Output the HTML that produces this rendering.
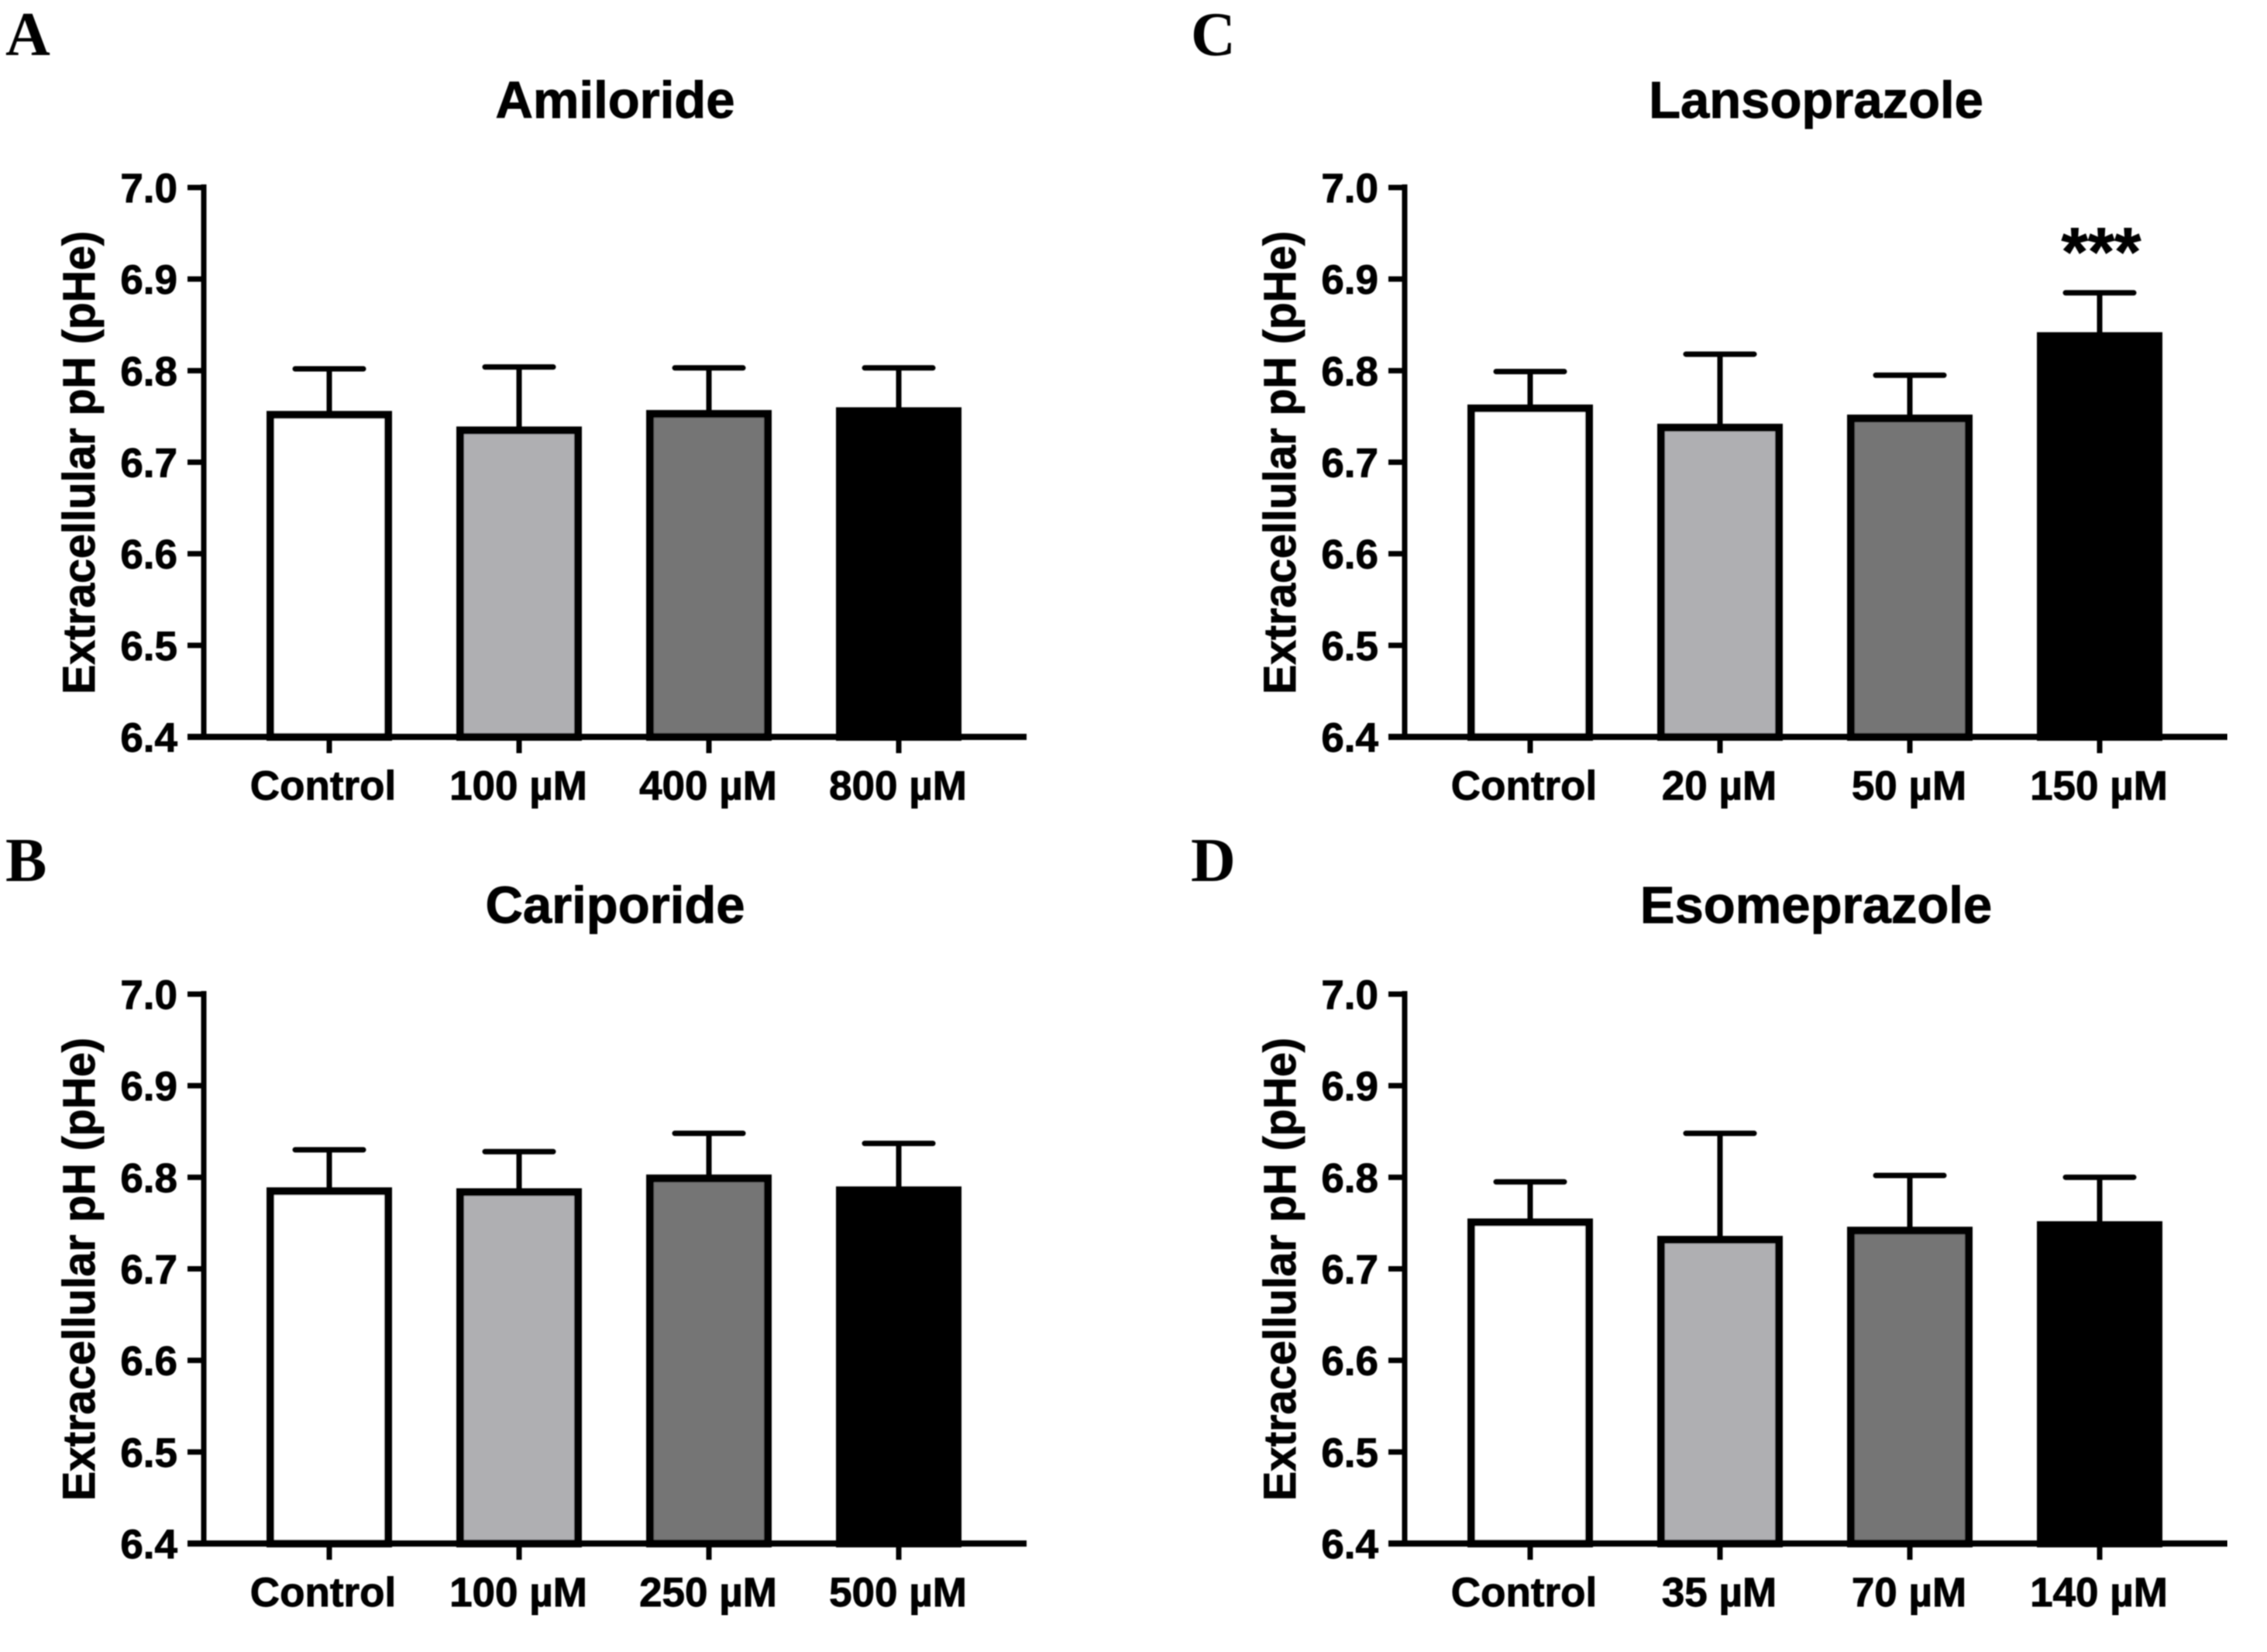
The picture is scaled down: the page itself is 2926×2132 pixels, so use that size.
<!DOCTYPE html>
<html lang="en">
<head>
<meta charset="utf-8">
<title>Extracellular pH bar charts</title>
<style>
html,body{margin:0;padding:0;background:#fff;}
svg{display:block;}
text{font-family:"Liberation Sans",sans-serif;font-weight:bold;fill:#000;stroke:#000;stroke-width:0.9px;}
text.panel-letter{font-family:"Liberation Serif",serif;stroke-width:0;}
</style>
</head>
<body>
<svg id="figure" xmlns="http://www.w3.org/2000/svg" width="2926" height="2132" viewBox="0 0 2926 2132">
<defs><filter id="soften" x="0" y="0" width="100%" height="100%"><feGaussianBlur stdDeviation="0.8"/></filter></defs>
</svg>
<script>
const yTicks = [6.4, 6.5, 6.6, 6.7, 6.8, 6.9, 7.0];
const yTickLabels = ["6.4", "6.5", "6.6", "6.7", "6.8", "6.9", "7.0"];
const barFills = ["#ffffff", "#afafb2", "#757575", "#000000"];

const amilorideCategories = ["Control", "100 µM", "400 µM", "800 µM"];
const amilorideMeans = [6.756, 6.739, 6.757, 6.760];
const amilorideErrorTops = [6.802, 6.804, 6.803, 6.803];

const cariporideCategories = ["Control", "100 µM", "250 µM", "500 µM"];
const cariporideMeans = [6.789, 6.788, 6.803, 6.790];
const cariporideErrorTops = [6.830, 6.828, 6.848, 6.837];

const lansoprazoleCategories = ["Control", "20 µM", "50 µM", "150 µM"];
const lansoprazoleMeans = [6.763, 6.742, 6.752, 6.842];
const lansoprazoleErrorTops = [6.799, 6.818, 6.795, 6.885];
const lansoprazoleMarks = ["", "", "", "***"];

const esomeprazoleCategories = ["Control", "35 µM", "70 µM", "140 µM"];
const esomeprazoleMeans = [6.755, 6.736, 6.746, 6.752];
const esomeprazoleErrorTops = [6.795, 6.848, 6.802, 6.800];

const noMarks = ["", "", "", ""];
const SVGNS = "http://www.w3.org/2000/svg";
const root = document.getElementById("figure");



function make(parent, tag, attrs, content) {
  const el = document.createElementNS(SVGNS, tag);
  for (const k in attrs) el.setAttribute(k, attrs[k]);
  if (content !== undefined) el.textContent = content;
  parent.appendChild(el);
  return el;
}

const stage = make(root, "g", {filter: "url(#soften)"});



function drawPanel(cfg) {
  const dx = cfg.dx, dy = cfg.dy;
  const yScale = v => dy + 951 - (v - 6.4) * (709 / 0.6);
  const xScale = i => dx + 425 + i * 245;
  const g = make(stage, "g", {});
  
  

  const letter = make(g, "text", {class: "panel-letter", x: cfg.letterX, y: dy + (dy ? 96 : 71), "font-size": 80}, cfg.letter);
  
  

  const title = make(g, "text", {x: dx + 794, y: dy + 152 + (dy ? -2 : 0), "text-anchor": "middle", "font-size": 67}, cfg.title);
  
  

  const ylab = make(g, "text", {
    transform: "translate(" + (dx + 122) + " " + (dy + 896) + ") rotate(-90)",
    "font-size": 58, textLength: 598, lengthAdjust: "spacingAndGlyphs"
  }, "Extracellular pH (pHe)");
  
  

  cfg.means.forEach((m, i) => {
    const c = xScale(i);
    const top = yScale(m);
    const errTop = yScale(cfg.errorTops[i]);

    const stem = make(g, "line", {x1: c, x2: c, y1: top + 4, y2: errTop, stroke: "#000", "stroke-width": 7});
    
    

    const cap = make(g, "line", {x1: c - 44, x2: c + 44, y1: errTop, y2: errTop, stroke: "#000", "stroke-width": 7, "stroke-linecap": "round"});
    
    

    const bar = make(g, "rect", {
      x: c - 81 + 5, y: top + 5, width: 162 - 10, height: yScale(6.4) - top - 5,
      fill: barFills[i], stroke: "#000", "stroke-width": 10
    });
    
    

    const tick = make(g, "line", {x1: c, x2: c, y1: yScale(6.4), y2: yScale(6.4) + 21, stroke: "#000", "stroke-width": 7});
    
    

    const lab = make(g, "text", {
      x: c + (i === 0 ? -8 : -1), y: yScale(6.4) + 81, "text-anchor": "middle", "font-size": 53
    }, cfg.categories[i]);
    
    

    if (cfg.marks[i]) {
      const mark = make(g, "text", {x: c + 2, y: errTop - 23, "text-anchor": "middle", "font-size": 88}, cfg.marks[i]);
      
      
    }
  });

  const yAxis = make(g, "line", {x1: dx + 263, x2: dx + 263, y1: yScale(7.0) - 4, y2: yScale(6.4) + 4, stroke: "#000", "stroke-width": 7});
  
  

  const xAxis = make(g, "line", {x1: dx + 242, x2: dx + 1325, y1: yScale(6.4), y2: yScale(6.4), stroke: "#000", "stroke-width": 8});
  
  

  yTicks.forEach((t, i) => {
    const y = yScale(t);
    const tk = make(g, "line", {x1: dx + 242, x2: dx + 263, y1: y, y2: y, stroke: "#000", "stroke-width": 7});
    
    
    const lb = make(g, "text", {x: dx + 229, y: y + 19, "text-anchor": "end", "font-size": 53}, yTickLabels[i]);
    
    
  });
}

drawPanel({key: "amiloride", letter: "A", letterX: 7, title: "Amiloride", dx: 0, dy: 0,
  categories: amilorideCategories, means: amilorideMeans, errorTops: amilorideErrorTops, marks: noMarks});
drawPanel({key: "cariporide", letter: "B", letterX: 7, title: "Cariporide", dx: 0, dy: 1041,
  categories: cariporideCategories, means: cariporideMeans, errorTops: cariporideErrorTops, marks: noMarks});
drawPanel({key: "lansoprazole", letter: "C", letterX: 1537, title: "Lansoprazole", dx: 1550, dy: 0,
  categories: lansoprazoleCategories, means: lansoprazoleMeans, errorTops: lansoprazoleErrorTops, marks: lansoprazoleMarks});
drawPanel({key: "esomeprazole", letter: "D", letterX: 1537, title: "Esomeprazole", dx: 1550, dy: 1041,
  categories: esomeprazoleCategories, means: esomeprazoleMeans, errorTops: esomeprazoleErrorTops, marks: noMarks});
</script>
</body>
</html>
